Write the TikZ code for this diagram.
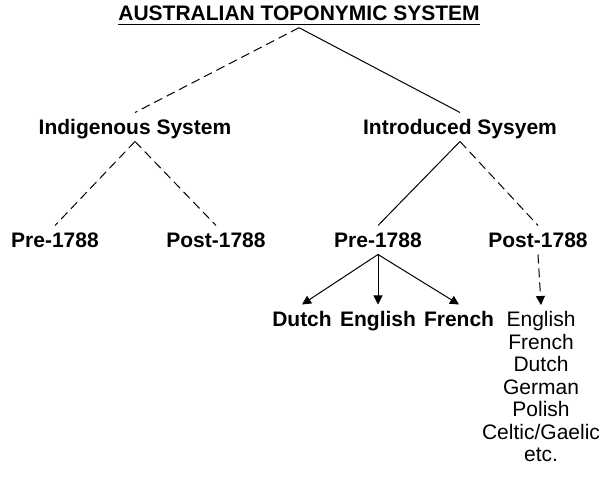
\documentclass[tikz,border=0pt]{standalone}
\usepackage{fontspec}
\setmainfont{Liberation Sans}
\usetikzlibrary{arrows.meta}

\tikzset{
  lbl/.style={font=\fontsize{10.5}{11.25}\selectfont\bfseries, inner sep=3pt, text height=8pt, text depth=0pt, anchor=base},
  plain/.style={font=\fontsize{10.5}{11.25}\selectfont, inner sep=3pt, align=center, anchor=north},
  dsh/.style={dash pattern=on 4.5pt off 2.5pt},
  arr/.style={-{Triangle[width=4.5pt,length=4.5pt]}}
}

\begin{document}
\begin{tikzpicture}[x=0.5pt, y=-0.5pt, line width=0.5pt]
               \useasboundingbox (0,0) rectangle (604,485);

               \node[lbl, inner sep=1pt, text height=, text depth=] (title) at (299,21) {\underline{AUSTRALIAN TOPONYMIC SYSTEM}};

               \node[lbl] (indig) at (135,135) {Indigenous System};
               \node[lbl] (intro) at (460,135) {Introduced Sysyem};

               \node[lbl] (indpre) at (55,248) {Pre-1788};
               \node[lbl] (indpost) at (216,248) {Post-1788};
               \node[lbl] (intpre) at (378,248) {Pre-1788};
               \node[lbl] (intpost) at (538,248) {Post-1788};

               \node[lbl] (dutch) at (302,327) {Dutch};
               \node[lbl] (english) at (378,327) {English};
               \node[lbl] (french) at (459,327) {French};
               \node[plain] (later) at (541,305) {English\\French\\Dutch\\German\\Polish\\Celtic/Gaelic\\etc.};

               %% top
               \draw[dsh] (title.south) -- (indig.north);
               \draw (title.south) -- (intro.north);

               %% indigenous
               \draw[dsh] (indig.south) -- (indpre.north);
               \draw[dsh] (indig.south) -- (indpost.north);

               %% introduced
               \draw (intro.south) -- (intpre.north);
               \draw[dsh] (intro.south) -- (intpost.north);

               %% pre-1788
               \draw[arr] (intpre.south) -- (dutch.north);
               \draw[arr] (intpre.south) -- (english.north);
               \draw[arr] (intpre.south) -- (french.north);

               %% post-1788
               \draw[arr, dsh] (intpost.south) -- (later.north);
\end{tikzpicture}
\end{document}
